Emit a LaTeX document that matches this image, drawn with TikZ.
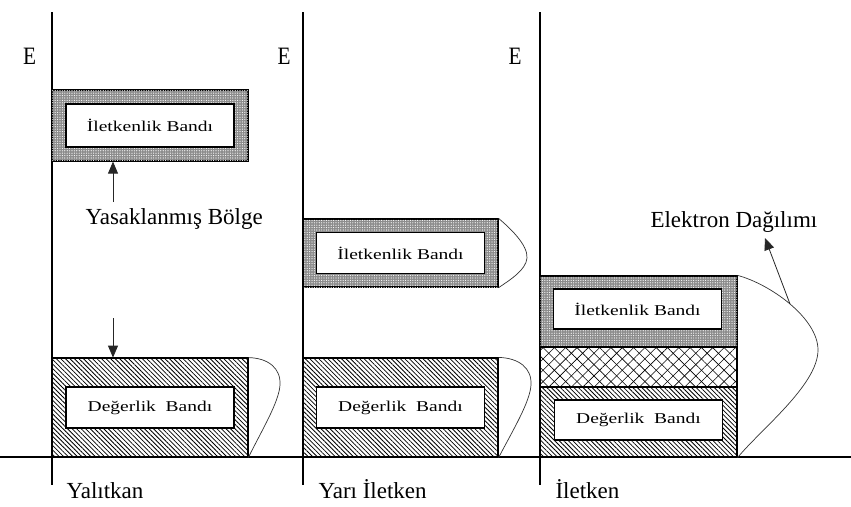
\documentclass[tikz,border=0pt]{standalone}
\usepackage{fontspec}
\setmainfont{Liberation Serif}
\newfontfamily\widefont[FakeStretch=1.3]{Liberation Serif}
\usetikzlibrary{patterns,patterns.meta,arrows.meta}

\begin{document}
\begin{tikzpicture}[x=1pt,y=-1pt,
  axis/.style={line width=1.1pt},
  outerband/.style={draw, line width=1.2pt, inner sep=0pt, anchor=center},
  cband/.style={outerband, fill=black!45,
    postaction={pattern={Dots[distance=2.4pt,radius=0.6pt]}, pattern color=white}},
  vband/.style={outerband, pattern={Lines[angle=-45,distance=3.2pt,line width=0.8pt]}},
  gapband/.style={outerband,
    pattern={Lines[angle=45,distance=8pt,line width=0.6pt]},
    preaction={pattern={Lines[angle=-45,distance=8pt,line width=0.6pt]}}},
  bandname/.style={draw, fill=white, line width=1.2pt, minimum width=168pt,
    minimum height=41pt, inner sep=0pt, font=\widefont\fontsize{15}{17}\selectfont},
  elabel/.style={font=\fontsize{25}{28}\selectfont},
  txt/.style={anchor=base west, font=\fontsize{23}{26}\selectfont},
  arr/.style={line width=0.8pt, black!85, -{Triangle[length=12pt,width=10pt]}},
  dist/.style={line width=0.7pt, black!80},
]
\useasboundingbox (0,0) rectangle (851,506);

% energy axes and base line
\coordinate (a1t) at (52,12);  \coordinate (a1b) at (52,485);
\coordinate (a2t) at (303,12); \coordinate (a2b) at (303,485);
\coordinate (a3t) at (540,12); \coordinate (a3b) at (540,485);
\coordinate (hl0) at (0,457);  \coordinate (hl1) at (851,457);
\draw[axis] (a1t) -- (a1b);
\draw[axis] (a2t) -- (a2b);
\draw[axis] (a3t) -- (a3b);
\draw[axis] (hl0) -- (hl1);

\node[elabel] (e1) at (29.5,56) {\scalebox{0.85}[1]{E}};
\node[elabel] (e2) at (284,56) {\scalebox{0.85}[1]{E}};
\node[elabel] (e3) at (515,56) {\scalebox{0.85}[1]{E}};

% insulator
\node[cband, minimum width=196pt, minimum height=71pt] (cb1) at (150,125.5) {};
\node[bandname, minimum height=43pt] (cb1t) at (cb1.center) {İletkenlik Bandı};
\node[vband, minimum width=196pt, minimum height=99pt] (vb1) at (150,407.5) {};
\node[bandname] (vb1t) at (vb1.center) {Değerlik\ \ Bandı};

% semiconductor
\node[cband, minimum width=195pt, minimum height=68pt] (cb2) at (400.5,253) {};
\node[bandname] (cb2t) at (cb2.center) {İletkenlik Bandı};
\node[vband, minimum width=195pt, minimum height=99pt] (vb2) at (400.5,407.5) {};
\node[bandname] (vb2t) at (vb2.center) {Değerlik\ \ Bandı};

% conductor
\node[cband, minimum width=197pt, minimum height=71pt] (cb3) at (638.5,311.5) {};
\node[gapband, minimum width=197pt, minimum height=40pt] (gb3) at (638.5,367) {};
\node[vband, minimum width=197pt, minimum height=70pt] (vb3) at (638.5,422) {};
\node[bandname, minimum height=40pt] (cb3t) at (637.5,309) {İletkenlik Bandı};
\node[bandname, minimum height=40pt] (vb3t) at (638.5,420) {Değerlik\ \ Bandı};

% electron distributions
\coordinate (p1) at (280,385);
\draw[dist] (vb1.north east) .. controls (268,358) and (281,368) .. (p1)
  .. controls (279,402) and (262,430) .. (vb1.south east);
\coordinate (p2) at (531,385);
\draw[dist] (vb2.north east) .. controls (519,358) and (532,368) .. (p2)
  .. controls (530,402) and (513,430) .. (vb2.south east);
\coordinate (q2) at (527,258);
\draw[dist] (cb2.north east) .. controls (510,228) and (528,245) .. (q2)
  .. controls (526,270) and (510,280) .. (cb2.south east);
\coordinate (p3) at (818,350);
\draw[dist] (cb3.north east) .. controls (770,284) and (818,318) .. (p3)
  .. controls (818,385) and (760,430) .. (vb3.south east);

% labels and pointers
\node[txt] (yasak) at (82,224) {Yasaklanmış Bölge};
\coordinate (up0) at (113,202);
\draw[arr] (up0) -- (up0 |- cb1.south);
\coordinate (dn0) at (113,318);
\draw[arr] (dn0) -- (dn0 |- vb1.north);

\node[txt] (elek) at (647,227) {Elektron Dağılımı};
\coordinate (ed0) at (790,304);
\coordinate (ed1) at (765,238);
\draw[arr] (ed0) -- (ed1);

\node[txt] (yal) at (63,498) {Yalıtkan};
\node[txt] (yi) at (315,498) {Yarı İletken};
\node[txt] (il) at (552,498) {İletken};
\end{tikzpicture}
\end{document}
